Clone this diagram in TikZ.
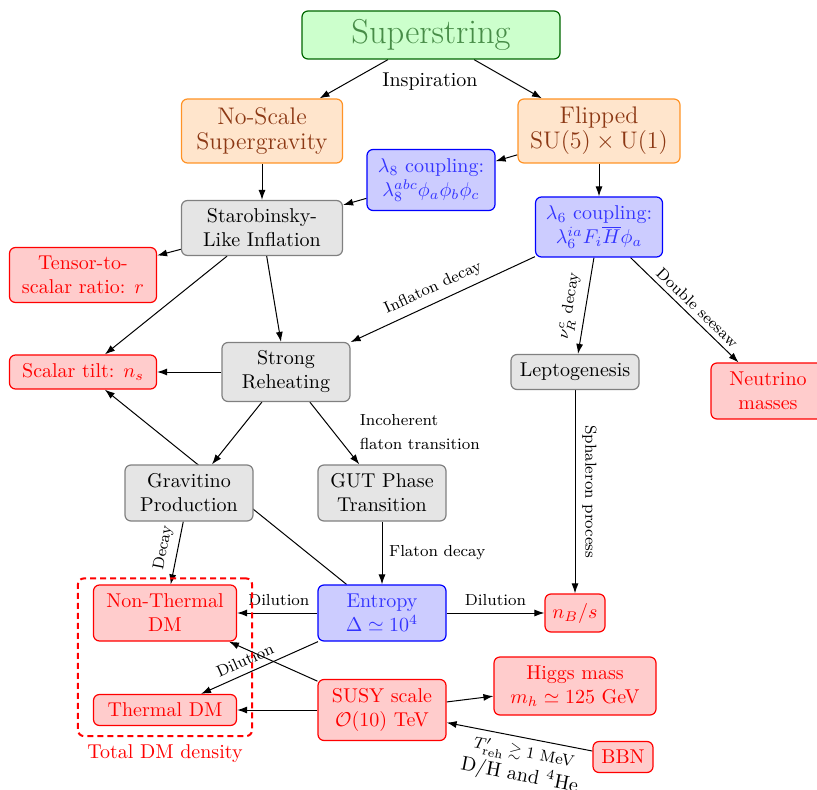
\documentclass[tikz,border=0pt]{standalone}
\usepackage{amsmath}
\usepackage{amssymb}
\usepackage{tikz}
\usetikzlibrary{arrows.meta}
\usetikzlibrary{positioning, fit, backgrounds}

\definecolor{strgreen}{rgb}{0.28,0.55,0.28}
\definecolor{flipbrown}{rgb}{0.55,0.22,0.08}

\begin{document}
\begin{tikzpicture}[x=0.5pt, y=0.5pt,
    box/.style={draw, rounded corners=3pt, semithick, align=center, inner sep=2pt},
    dims/.style 2 args={minimum width=#1, minimum height=#2},
    greenbox/.style={box, draw=green!40!black, fill=green!20, text=strgreen},
    orangebox/.style={box, draw=orange!85, fill=orange!20, text=flipbrown, font={\fontsize{12}{12.5}\selectfont}},
    bluebox/.style={box, draw=blue, fill=blue!20, text=blue!80},
    graybox/.style={box, draw=gray, fill=gray!20},
    redbox/.style={box, draw=red, fill=red!20, text=red},
    arr/.style={-{Latex[length=5pt, width=3.5pt]}, line width=0.5pt},
    lbl/.style={font=\footnotesize}
]
    \useasboundingbox (0,0) rectangle (817,-790);

    \node[greenbox, dims={129pt}{24pt}, font=\LARGE] (super) at (431,-35) {Superstring};
    \node (insp) at (430,-82) {Inspiration};
    \node[orangebox, dims={80.5pt}{32pt}] (noscale) at (262,-131) {No-Scale\\Supergravity};
    \node[orangebox, dims={81pt}{32pt}] (flipped) at (599,-131) {Flipped\\$\mathrm{SU}(5)\times\mathrm{U}(1)$};
    \node[bluebox, dims={64pt}{30.5pt}] (lam8) at (431,-180) {$\lambda_8$ coupling:\\$\lambda_8^{abc}\phi_a\phi_b\phi_c$};
    \node[bluebox, dims={63.5pt}{30pt}] (lam6) at (599,-227) {$\lambda_6$ coupling:\\$\lambda_6^{ia}F_i\overline{H}\phi_a$};
    \node[graybox, dims={80.5pt}{27.5pt}] (staro) at (262,-228) {Starobinsky-\\Like Inflation};
    \node[redbox, dims={73.5pt}{27.5pt}] (tensor) at (83,-275) {Tensor-to-\\scalar ratio: $r$};
    \node[redbox, dims={73.5pt}{17pt}] (tilt) at (83,-372) {Scalar tilt: $n_s$};
    \node[graybox, dims={64pt}{29.5pt}] (reheat) at (286,-372) {Strong\\Reheating};
    \node[graybox, dims={64pt}{17.5pt}] (lepto) at (575,-372) {Leptogenesis};
    \node[redbox, dims={57pt}{28pt}] (numass) at (768,-391) {Neutrino\\masses};
    \node[graybox, dims={64pt}{28pt}] (gravitino) at (189,-493) {Gravitino\\Production};
    \node[graybox, dims={64pt}{28pt}] (gut) at (382,-493) {GUT Phase\\Transition};
    \node[redbox, dims={71.5pt}{28pt}] (nonth) at (165,-613) {Non-Thermal\\DM};
    \node[redbox, dims={71.5pt}{15.5pt}] (thermal) at (165,-710) {Thermal DM};
    \node[bluebox, dims={64pt}{28pt}] (entropy) at (382,-613) {Entropy\\$\Delta\simeq 10^4$};
    \node[redbox, dims={64pt}{30.5pt}] (susy) at (382,-710) {SUSY scale\\$\mathcal{O}(10)$ TeV};
    \node[redbox, dims={30pt}{19pt}] (nbs) at (575,-613) {$n_B/s$};
    \node[redbox, dims={81pt}{29pt}] (higgs) at (575,-686) {Higgs mass\\$m_h\simeq 125$ GeV};
    \node[redbox, dims={30pt}{15.5pt}] (bbn) at (623,-757) {BBN};

    % total dark matter
    \node[draw=red, line width=1pt, dash pattern=on 3pt off 2pt, rounded corners=3pt,
          fit=(nonth)(thermal), inner xsep=7.5pt, inner ysep=4pt, yshift=-1pt] (dmtotal) {};
    \node[below=0pt of dmtotal, text=red] (dmlabel) {Total DM density};

    \begin{scope}[on background layer]
        \draw[arr] ([xshift=-21.5pt]super.south) -- (noscale);
        \draw[arr] ([xshift=21.5pt]super.south) -- (flipped);
        \draw[arr] (flipped) -- (lam8);
        \draw[arr] (lam8) -- (staro);
        \draw[arr] (noscale) -- (staro);
        \draw[arr] (flipped) -- (lam6);
        \draw[arr] (staro) -- (tensor);
        \draw[arr] (staro) -- (tilt);
        \draw[arr] (staro) -- (reheat);
        \draw[arr] (lam6) -- node[lbl, above, sloped, pos=.52] {Inflaton decay} (reheat);
        \draw[arr] (lam6) -- node[lbl, above, sloped, pos=.53] {$\nu_R^c$ decay} (lepto);
        \draw[arr] (lam6) -- node[lbl, above, sloped, pos=.55, yshift=-1pt] {Double seesaw} (numass);
        \draw[arr] (reheat) -- (tilt);
        \draw[arr] (reheat) -- (gravitino);
        \draw[arr] (reheat) -- node[lbl, right, pos=.48, xshift=9.5pt, align=left, font={\fontsize{8}{12}\selectfont}] {Incoherent\\flaton transition} (gut);
        \draw[arr] (lepto) -- node[lbl, above, sloped] {Sphaleron process} (nbs);
        \draw[arr] (gravitino) -- node[lbl, above, sloped, pos=.46] {Decay} (nonth);
        \draw[arr] (gut) -- node[lbl, right] {Flaton decay} (entropy);
        \draw[arr] (entropy) -- (tilt);
        \draw[arr] (entropy) -- node[lbl, above, pos=.48] {Dilution} (nonth);
        \draw[arr] (entropy) -- node[lbl, above, sloped, pos=.58] {Dilution} (thermal);
        \draw[arr] (entropy) -- node[lbl, above] {Dilution} (nbs);
        \draw[arr] (susy) -- (thermal);
        \draw[arr] (susy) -- (nonth);
        \draw[arr] (susy) -- (higgs);
        \draw[arr] (bbn) -- node[below, sloped, pos=.45, align=center] {{\footnotesize $T'_{\mathrm{reh}}\gtrsim 1$ MeV}\\D/H and $^4$He} (susy);
    \end{scope}
\end{tikzpicture}
\end{document}
